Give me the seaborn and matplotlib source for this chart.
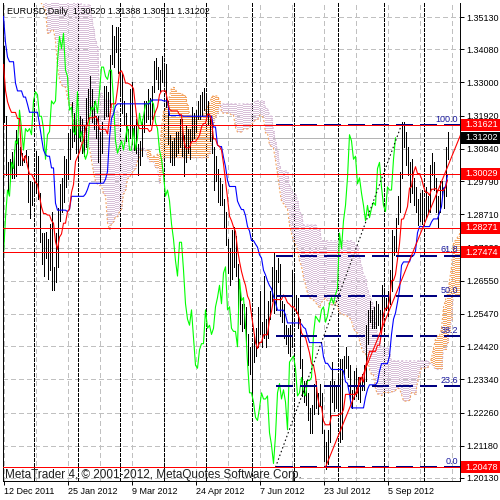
import numpy as np
import pandas as pd
import seaborn as sns
import matplotlib.pyplot as plt
from matplotlib.patches import Rectangle
import matplotlib.transforms as mtransforms

# EURUSD daily, history 22 Aug - 9 Dec 2011 (only used to start the Ichimoku lines)
hist_high = [1.4440, 1.4470, 1.4450, 1.4440, 1.4490, 1.4550, 1.4480, 1.4450, 1.4390, 1.4280,
             1.4150, 1.4110, 1.4110, 1.4080, 1.3880, 1.3700, 1.3790, 1.3800, 1.3910, 1.3850,
             1.3730, 1.3770, 1.3710, 1.3590, 1.3550, 1.3580, 1.3640, 1.3670, 1.3660, 1.3630,
             1.3430, 1.3360, 1.3400, 1.3480, 1.3480, 1.3640, 1.3720, 1.3820, 1.3840, 1.3890,
             1.3910, 1.3820, 1.3850, 1.3860, 1.3900, 1.3960, 1.3970, 1.3970, 1.4247, 1.4200,
             1.4170, 1.3860, 1.3830, 1.3870, 1.3850, 1.3800, 1.3860, 1.3820, 1.3620, 1.3780,
             1.3790, 1.3650, 1.3590, 1.3580, 1.3600, 1.3540, 1.3560, 1.3520, 1.3420, 1.3370,
             1.3420, 1.3420, 1.3540, 1.3548, 1.3530, 1.3490, 1.3440, 1.3440, 1.3460, 1.3420]
hist_low = [1.4330, 1.4360, 1.4370, 1.4340, 1.4330, 1.4430, 1.4380, 1.4360, 1.4180, 1.4140,
            1.4020, 1.3980, 1.4010, 1.3870, 1.3630, 1.3495, 1.3590, 1.3580, 1.3730, 1.3730,
            1.3600, 1.3620, 1.3530, 1.3390, 1.3390, 1.3360, 1.3480, 1.3530, 1.3530, 1.3380,
            1.3220, 1.3145, 1.3220, 1.3300, 1.3340, 1.3390, 1.3530, 1.3640, 1.3700, 1.3710,
            1.3650, 1.3660, 1.3700, 1.3650, 1.3730, 1.3830, 1.3810, 1.3800, 1.3910, 1.4060,
            1.3840, 1.3610, 1.3680, 1.3650, 1.3720, 1.3690, 1.3720, 1.3530, 1.3485, 1.3600,
            1.3570, 1.3480, 1.3430, 1.3420, 1.3430, 1.3420, 1.3420, 1.3360, 1.3320, 1.3211,
            1.3300, 1.3300, 1.3260, 1.3430, 1.3410, 1.3390, 1.3330, 1.3350, 1.3330, 1.3290]

# visible bars, 12 Dec 2011 - 17 Oct 2012
bar_high = [1.3420, 1.3190, 1.3040, 1.3050, 1.3075, 1.3080, 1.3145, 1.3120, 1.3090, 1.3070,
            1.3060, 1.3080, 1.3060, 1.2980, 1.2975, 1.2990, 1.3077, 1.3060, 1.2940, 1.2810,
            1.2810, 1.2815, 1.2790, 1.2840, 1.2880, 1.2700, 1.2810, 1.2890, 1.2970, 1.2990,
            1.3060, 1.3050, 1.3135, 1.3150, 1.3235, 1.3200, 1.3180, 1.3160, 1.3190, 1.3180,
            1.3160, 1.3250, 1.3280, 1.3320, 1.3280, 1.3240, 1.3190, 1.3190, 1.3140, 1.3170,
            1.3290, 1.3290, 1.3270, 1.3390, 1.3486, 1.3450, 1.3480, 1.3480, 1.3370, 1.3330,
            1.3240, 1.3200, 1.3150, 1.3280, 1.3300, 1.3160, 1.3180, 1.3100, 1.3110, 1.3180,
            1.3240, 1.3240, 1.3280, 1.3250, 1.3290, 1.3370, 1.3380, 1.3350, 1.3340, 1.3385,
            1.3350, 1.3360, 1.3240, 1.3130, 1.3110, 1.3120, 1.3140, 1.3140, 1.3180, 1.3180,
            1.3130, 1.3160, 1.3150, 1.3150, 1.3220, 1.3200, 1.3210, 1.3240, 1.3260, 1.3270,
            1.3283, 1.3260, 1.3240, 1.3190, 1.3170, 1.3090, 1.3060, 1.3020, 1.2990, 1.2970,
            1.2920, 1.2880, 1.2790, 1.2760, 1.2820, 1.2830, 1.2800, 1.2710, 1.2620, 1.2580,
            1.2580, 1.2570, 1.2480, 1.2440, 1.2440, 1.2480, 1.2500, 1.2570, 1.2620, 1.2520,
            1.2670, 1.2530, 1.2590, 1.2620, 1.2700, 1.2747, 1.2690, 1.2730, 1.2710, 1.2590,
            1.2580, 1.2510, 1.2500, 1.2510, 1.2690, 1.2680, 1.2610, 1.2600, 1.2530, 1.2400,
            1.2330, 1.2330, 1.2290, 1.2240, 1.2250, 1.2320, 1.2330, 1.2290, 1.2320, 1.2290,
            1.2170, 1.2130, 1.2170, 1.2330, 1.2390, 1.2330, 1.2310, 1.2340, 1.2400, 1.2400,
            1.2410, 1.2440, 1.2410, 1.2380, 1.2300, 1.2360, 1.2370, 1.2340, 1.2340, 1.2350,
            1.2380, 1.2510, 1.2560, 1.2590, 1.2560, 1.2570, 1.2590, 1.2580, 1.2560, 1.2640,
            1.2630, 1.2600, 1.2620, 1.2690, 1.2820, 1.2800, 1.2860, 1.2930, 1.3010, 1.3170,
            1.3172, 1.3140, 1.3090, 1.3040, 1.3050, 1.2990, 1.2960, 1.2920, 1.2940, 1.2950,
            1.2920, 1.2960, 1.2930, 1.3030, 1.3070, 1.3040, 1.2990, 1.2930, 1.2980, 1.2980,
            1.2960, 1.3090, 1.31388]
bar_low = [1.3170, 1.3000, 1.2945, 1.2980, 1.2990, 1.2990, 1.2995, 1.3030, 1.3030, 1.3030,
           1.3040, 1.3040, 1.2910, 1.2858, 1.2900, 1.2940, 1.2940, 1.2920, 1.2780, 1.2710,
           1.2670, 1.2730, 1.2660, 1.2690, 1.2624, 1.2625, 1.2650, 1.2700, 1.2850, 1.2880,
           1.2910, 1.2960, 1.2985, 1.3050, 1.3090, 1.3110, 1.3070, 1.3050, 1.3110, 1.3070,
           1.3060, 1.3090, 1.3180, 1.3210, 1.3170, 1.3150, 1.3120, 1.3040, 1.2975, 1.3070,
           1.3180, 1.3190, 1.3190, 1.3220, 1.3360, 1.3350, 1.3400, 1.3330, 1.3260, 1.3200,
           1.3160, 1.3110, 1.3110, 1.3120, 1.3100, 1.3080, 1.3070, 1.3000, 1.3030, 1.3060,
           1.3140, 1.3170, 1.3180, 1.3160, 1.3180, 1.3270, 1.3310, 1.3280, 1.3270, 1.3300,
           1.3300, 1.3220, 1.3100, 1.3040, 1.3030, 1.3030, 1.3060, 1.3070, 1.3090, 1.3060,
           1.2995, 1.3040, 1.3070, 1.3050, 1.3110, 1.3120, 1.3140, 1.3180, 1.3180, 1.3190,
           1.3210, 1.3190, 1.3160, 1.3110, 1.3070, 1.2950, 1.2980, 1.2910, 1.2900, 1.2900,
           1.2830, 1.2770, 1.2680, 1.2640, 1.2660, 1.2700, 1.2670, 1.2545, 1.2515, 1.2490,
           1.2500, 1.2450, 1.2380, 1.2350, 1.2288, 1.2390, 1.2410, 1.2440, 1.2480, 1.2440,
           1.2470, 1.2440, 1.2470, 1.2530, 1.2590, 1.2550, 1.2560, 1.2650, 1.2540, 1.2520,
           1.2470, 1.2450, 1.2420, 1.2410, 1.2440, 1.2580, 1.2550, 1.2500, 1.2370, 1.2280,
           1.2260, 1.2250, 1.2200, 1.2160, 1.2160, 1.2220, 1.2240, 1.2220, 1.2250, 1.2160,
           1.2067, 1.2042, 1.2060, 1.2130, 1.2260, 1.2230, 1.2240, 1.2240, 1.2130, 1.2140,
           1.2350, 1.2370, 1.2340, 1.2270, 1.2240, 1.2270, 1.2280, 1.2270, 1.2260, 1.2300,
           1.2300, 1.2330, 1.2450, 1.2520, 1.2500, 1.2500, 1.2500, 1.2510, 1.2490, 1.2520,
           1.2560, 1.2560, 1.2540, 1.2580, 1.2620, 1.2740, 1.2750, 1.2840, 1.2880, 1.2990,
           1.3090, 1.3030, 1.3000, 1.2910, 1.2940, 1.2900, 1.2880, 1.2835, 1.2850, 1.2840,
           1.2850, 1.2860, 1.2880, 1.2880, 1.3000, 1.2950, 1.2880, 1.2827, 1.2880, 1.2930,
           1.2890, 1.2930, 1.30511]
bar_close = [1.3180, 1.3030, 1.2985, 1.3020, 1.3040, 1.3000, 1.3140, 1.3060, 1.3050, 1.3040,
             1.3050, 1.3050, 1.2920, 1.2940, 1.2960, 1.2950, 1.3050, 1.2940, 1.2790, 1.2720,
             1.2760, 1.2780, 1.2710, 1.2820, 1.2680, 1.2660, 1.2740, 1.2860, 1.2950, 1.2930,
             1.3040, 1.3020, 1.3110, 1.3100, 1.3210, 1.3150, 1.3080, 1.3150, 1.3140, 1.3150,
             1.3130, 1.3240, 1.3270, 1.3260, 1.3190, 1.3190, 1.3150, 1.3050, 1.3130, 1.3140,
             1.3240, 1.3230, 1.3240, 1.3370, 1.3450, 1.3410, 1.3460, 1.3340, 1.3320, 1.3210,
             1.3220, 1.3140, 1.3130, 1.3270, 1.3120, 1.3140, 1.3080, 1.3050, 1.3070, 1.3180,
             1.3220, 1.3210, 1.3240, 1.3200, 1.3270, 1.3350, 1.3350, 1.3320, 1.3310, 1.3340,
             1.3340, 1.3240, 1.3110, 1.3070, 1.3090, 1.3110, 1.3080, 1.3120, 1.3160, 1.3080,
             1.3080, 1.3150, 1.3080, 1.3120, 1.3200, 1.3160, 1.3190, 1.3230, 1.3230, 1.3240,
             1.3240, 1.3230, 1.3170, 1.3150, 1.3080, 1.3050, 1.3000, 1.2930, 1.2950, 1.2915,
             1.2840, 1.2790, 1.2720, 1.2670, 1.2780, 1.2780, 1.2690, 1.2580, 1.2530, 1.2510,
             1.2560, 1.2470, 1.2380, 1.2370, 1.2430, 1.2450, 1.2450, 1.2560, 1.2500, 1.2510,
             1.2480, 1.2500, 1.2570, 1.2600, 1.2640, 1.2580, 1.2680, 1.2700, 1.2560, 1.2570,
             1.2500, 1.2490, 1.2490, 1.2440, 1.2660, 1.2590, 1.2600, 1.2510, 1.2390, 1.2290,
             1.2290, 1.2260, 1.2210, 1.2200, 1.2240, 1.2290, 1.2270, 1.2270, 1.2280, 1.2160,
             1.2120, 1.2060, 1.2150, 1.2290, 1.2320, 1.2270, 1.2300, 1.2260, 1.2170, 1.2390,
             1.2400, 1.2410, 1.2370, 1.2280, 1.2290, 1.2340, 1.2290, 1.2280, 1.2330, 1.2330,
             1.2340, 1.2480, 1.2540, 1.2530, 1.2520, 1.2560, 1.2570, 1.2520, 1.2540, 1.2580,
             1.2600, 1.2580, 1.2610, 1.2630, 1.2810, 1.2760, 1.2850, 1.2900, 1.2990, 1.3130,
             1.3110, 1.3050, 1.3060, 1.2970, 1.2990, 1.2940, 1.2900, 1.2850, 1.2900, 1.2860,
             1.2890, 1.2910, 1.2900, 1.3020, 1.3040, 1.2960, 1.2900, 1.2880, 1.2960, 1.2950,
             1.2950, 1.3050, 1.31202]

date_labels = ['12 Dec 2011', '25 Jan 2012', '9 Mar 2012', '24 Apr 2012',
               '7 Jun 2012', '23 Jul 2012', '5 Sep 2012']
date_bars = [0, 32, 64, 96, 128, 160, 192]
month_start_bars = [15, 37, 58, 80, 101, 124, 145, 167, 190, 210]

price_ticks = [1.20130, 1.21180, 1.22260, 1.23340, 1.24420, 1.25470, 1.26550, 1.27620,
               1.28710, 1.29790, 1.30840, 1.31920, 1.33000, 1.34080, 1.35130]
level_lines = [1.31621, 1.30029, 1.28271, 1.27474, 1.20478]
last_price = 1.31202
header = 'EURUSD,Daily  1.30520 1.31388 1.30511 1.31202'
footer = 'MetaTrader 4, \u00a9 2001-2012, MetaQuotes Software Corp.'

fib_bars = [136, 199]
fib_prices = [1.20478, 1.31621]
fib_levels = [0.0, 23.6, 38.2, 50.0, 61.8, 100.0]

trend_bars = [161, 227.5]
trend_prices = [1.2048, 1.3113]

# ---- ichimoku (9, 26, 52) from the bars ----
high = pd.Series(hist_high + bar_high)
low = pd.Series(hist_low + bar_low)
idx = np.arange(-len(hist_high), len(bar_high))
high.index = idx
low.index = idx

tenkan = (high.rolling(9).max() + low.rolling(9).min()) / 2
kijun = (high.rolling(26).max() + low.rolling(26).min()) / 2
span_a = (tenkan + kijun) / 2
span_b = (high.rolling(52).max() + low.rolling(52).min()) / 2
span_a.index = idx + 26
span_b.index = idx + 26
kumo = pd.DataFrame({'a': span_a, 'b': span_b}).dropna()
kumo = kumo[kumo.index >= -2]

bars = pd.DataFrame({'bar': np.arange(len(bar_high)), 'high': bar_high,
                     'low': bar_low, 'close': bar_close})
bars['tenkan'] = tenkan.loc[0:].values
bars['kijun'] = kijun.loc[0:].values

# ---- figure ----
sns.set_theme(style='white')
plt.rcParams['font.family'] = ['Liberation Sans', 'DejaVu Sans']
plt.rcParams['lines.scale_dashes'] = False

PX = 0.72  # one pixel in points at 100 dpi
fig = plt.figure(figsize=(5, 5), dpi=100)
ax = fig.add_axes([3 / 500, 19 / 500, 457 / 500, 478 / 500])
ax.set_xlim(-0.25, 228.25)
ax.set_ylim(1.20031, 1.35586)
ax.set_facecolor('white')

lw = 0.7
# grid
for p in price_ticks:
    ax.axhline(p, color='#c0c0c0', lw=lw, ls=(0, (5 * PX, 3 * PX)), zorder=0.5, antialiased=False)
for b in range(0, 229, 16):
    ax.axvline(b, color='#c0c0c0', lw=lw, ls=(0, (5 * PX, 3 * PX)), zorder=0.5, antialiased=False)
for b in month_start_bars:
    ax.axvline(b, color='black', lw=lw, ls=(0, (4 * PX, 2 * PX)), zorder=0.6, antialiased=False)
ax.axhline(last_price, color='#b4b4b4', lw=lw, zorder=0.7, antialiased=False)

# kumo histogram
up = kumo['a'] >= kumo['b']
kumo_colors = np.where(up, '#f4a460', '#d8bfd8')
ax.vlines(kumo.index, kumo[['a', 'b']].min(axis=1), kumo[['a', 'b']].max(axis=1),
          colors=kumo_colors, lw=1.5 * PX, linestyles=(0, (PX, 2 * PX)), zorder=1,
          antialiased=False)
ax.plot(kumo.index, kumo['a'], color='#f4a460', lw=0.8, ls=(0, (2 * PX, 2 * PX)), zorder=1.1)
ax.plot(kumo.index, kumo['b'], color='#d8bfd8', lw=0.8, ls=(0, (2 * PX, 2 * PX)), zorder=1.1)

# price bars
ax.vlines(bars['bar'], bars['low'], bars['high'], colors='black', lw=lw,
          zorder=2, antialiased=False)

# ichimoku lines
line_lw = 0.8
sns.lineplot(x=bars['bar'] - 26, y=bars['close'], color='#00ff00', lw=line_lw, ax=ax,
             estimator=None, sort=False, zorder=2.5)
sns.lineplot(data=bars, x='bar', y='kijun', color='#0000ff', lw=line_lw, ax=ax,
             estimator=None, sort=False, zorder=3)
sns.lineplot(data=bars, x='bar', y='tenkan', color='#ff0000', lw=line_lw, ax=ax,
             estimator=None, sort=False, zorder=3.1)

# fibonacci
fib_lo, fib_hi = fib_prices
ax.plot(fib_bars, fib_prices, color='black', lw=0.8, ls=(0, (1.5 * PX, 2.5 * PX)), zorder=4)
blend = mtransforms.blended_transform_factory(ax.transAxes, ax.transData)
for lv in fib_levels:
    y = fib_lo + (fib_hi - fib_lo) * lv / 100
    ax.plot([fib_bars[0], 229], [y, y], color='#000080', lw=2 * PX, ls=(0, (17 * PX, 7 * PX)),
            zorder=3.5, solid_capstyle='butt')
    ax.text(0.9956, y + 0.0004, f'{lv:.1f}', transform=blend, ha='right', va='bottom',
            color='#1a1aa0', fontsize=6.5, zorder=5)

# horizontal levels and trend line
for p in level_lines:
    ax.axhline(p, color='#ff0000', lw=lw, zorder=4, antialiased=False)
slope = (trend_prices[1] - trend_prices[0]) / (trend_bars[1] - trend_bars[0])
ax.plot([trend_bars[0], 229], [trend_prices[0], trend_prices[0] + slope * (229 - trend_bars[0])],
        color='#ff0000', lw=line_lw, zorder=4)

# axes look
for s in ['left', 'right', 'bottom']:
    ax.spines[s].set_color('black')
    ax.spines[s].set_linewidth(lw)
ax.spines['top'].set_visible(False)
ax.yaxis.tick_right()
ax.set_yticks(price_ticks, [f'{p:.5f}' for p in price_ticks])
ax.set_xticks(date_bars, date_labels)
for lbl in ax.get_xticklabels():
    lbl.set_horizontalalignment('left')
ax.tick_params(axis='y', length=3, width=lw, pad=1.5, labelsize=6.5, colors='black',
               direction='out', right=True, left=False)
ax.tick_params(axis='x', length=3, width=lw, pad=1.5, labelsize=6.5, colors='black',
               direction='out', bottom=True)
ax.set_xlabel('')
ax.set_ylabel('')

# right-hand price labels (the 1.27474 box sits over the 1.27620 tick, as in MT4)
box_h = 12 / 3073
for p, col in [(p, '#ff0000') for p in level_lines] + [(last_price, 'black')]:
    ax.add_patch(Rectangle((1.0015, p - box_h / 2), 0.09, box_h, transform=blend,
                           facecolor=col, edgecolor='none', clip_on=False, zorder=6))
    ax.text(1.0125, p, f'{p:.5f}', transform=blend, ha='left', va='center',
            color='white', fontsize=6.5, zorder=7, clip_on=False)

fig.text(7 / 500, 1 - 11 / 500, header, ha='left', va='center', fontsize=6.5, color='black')
fig.text(5 / 500, 1 - 475 / 500, footer, ha='left', va='center', fontsize=8.5, color='#202020')

fig.savefig('out.png', dpi=100)
